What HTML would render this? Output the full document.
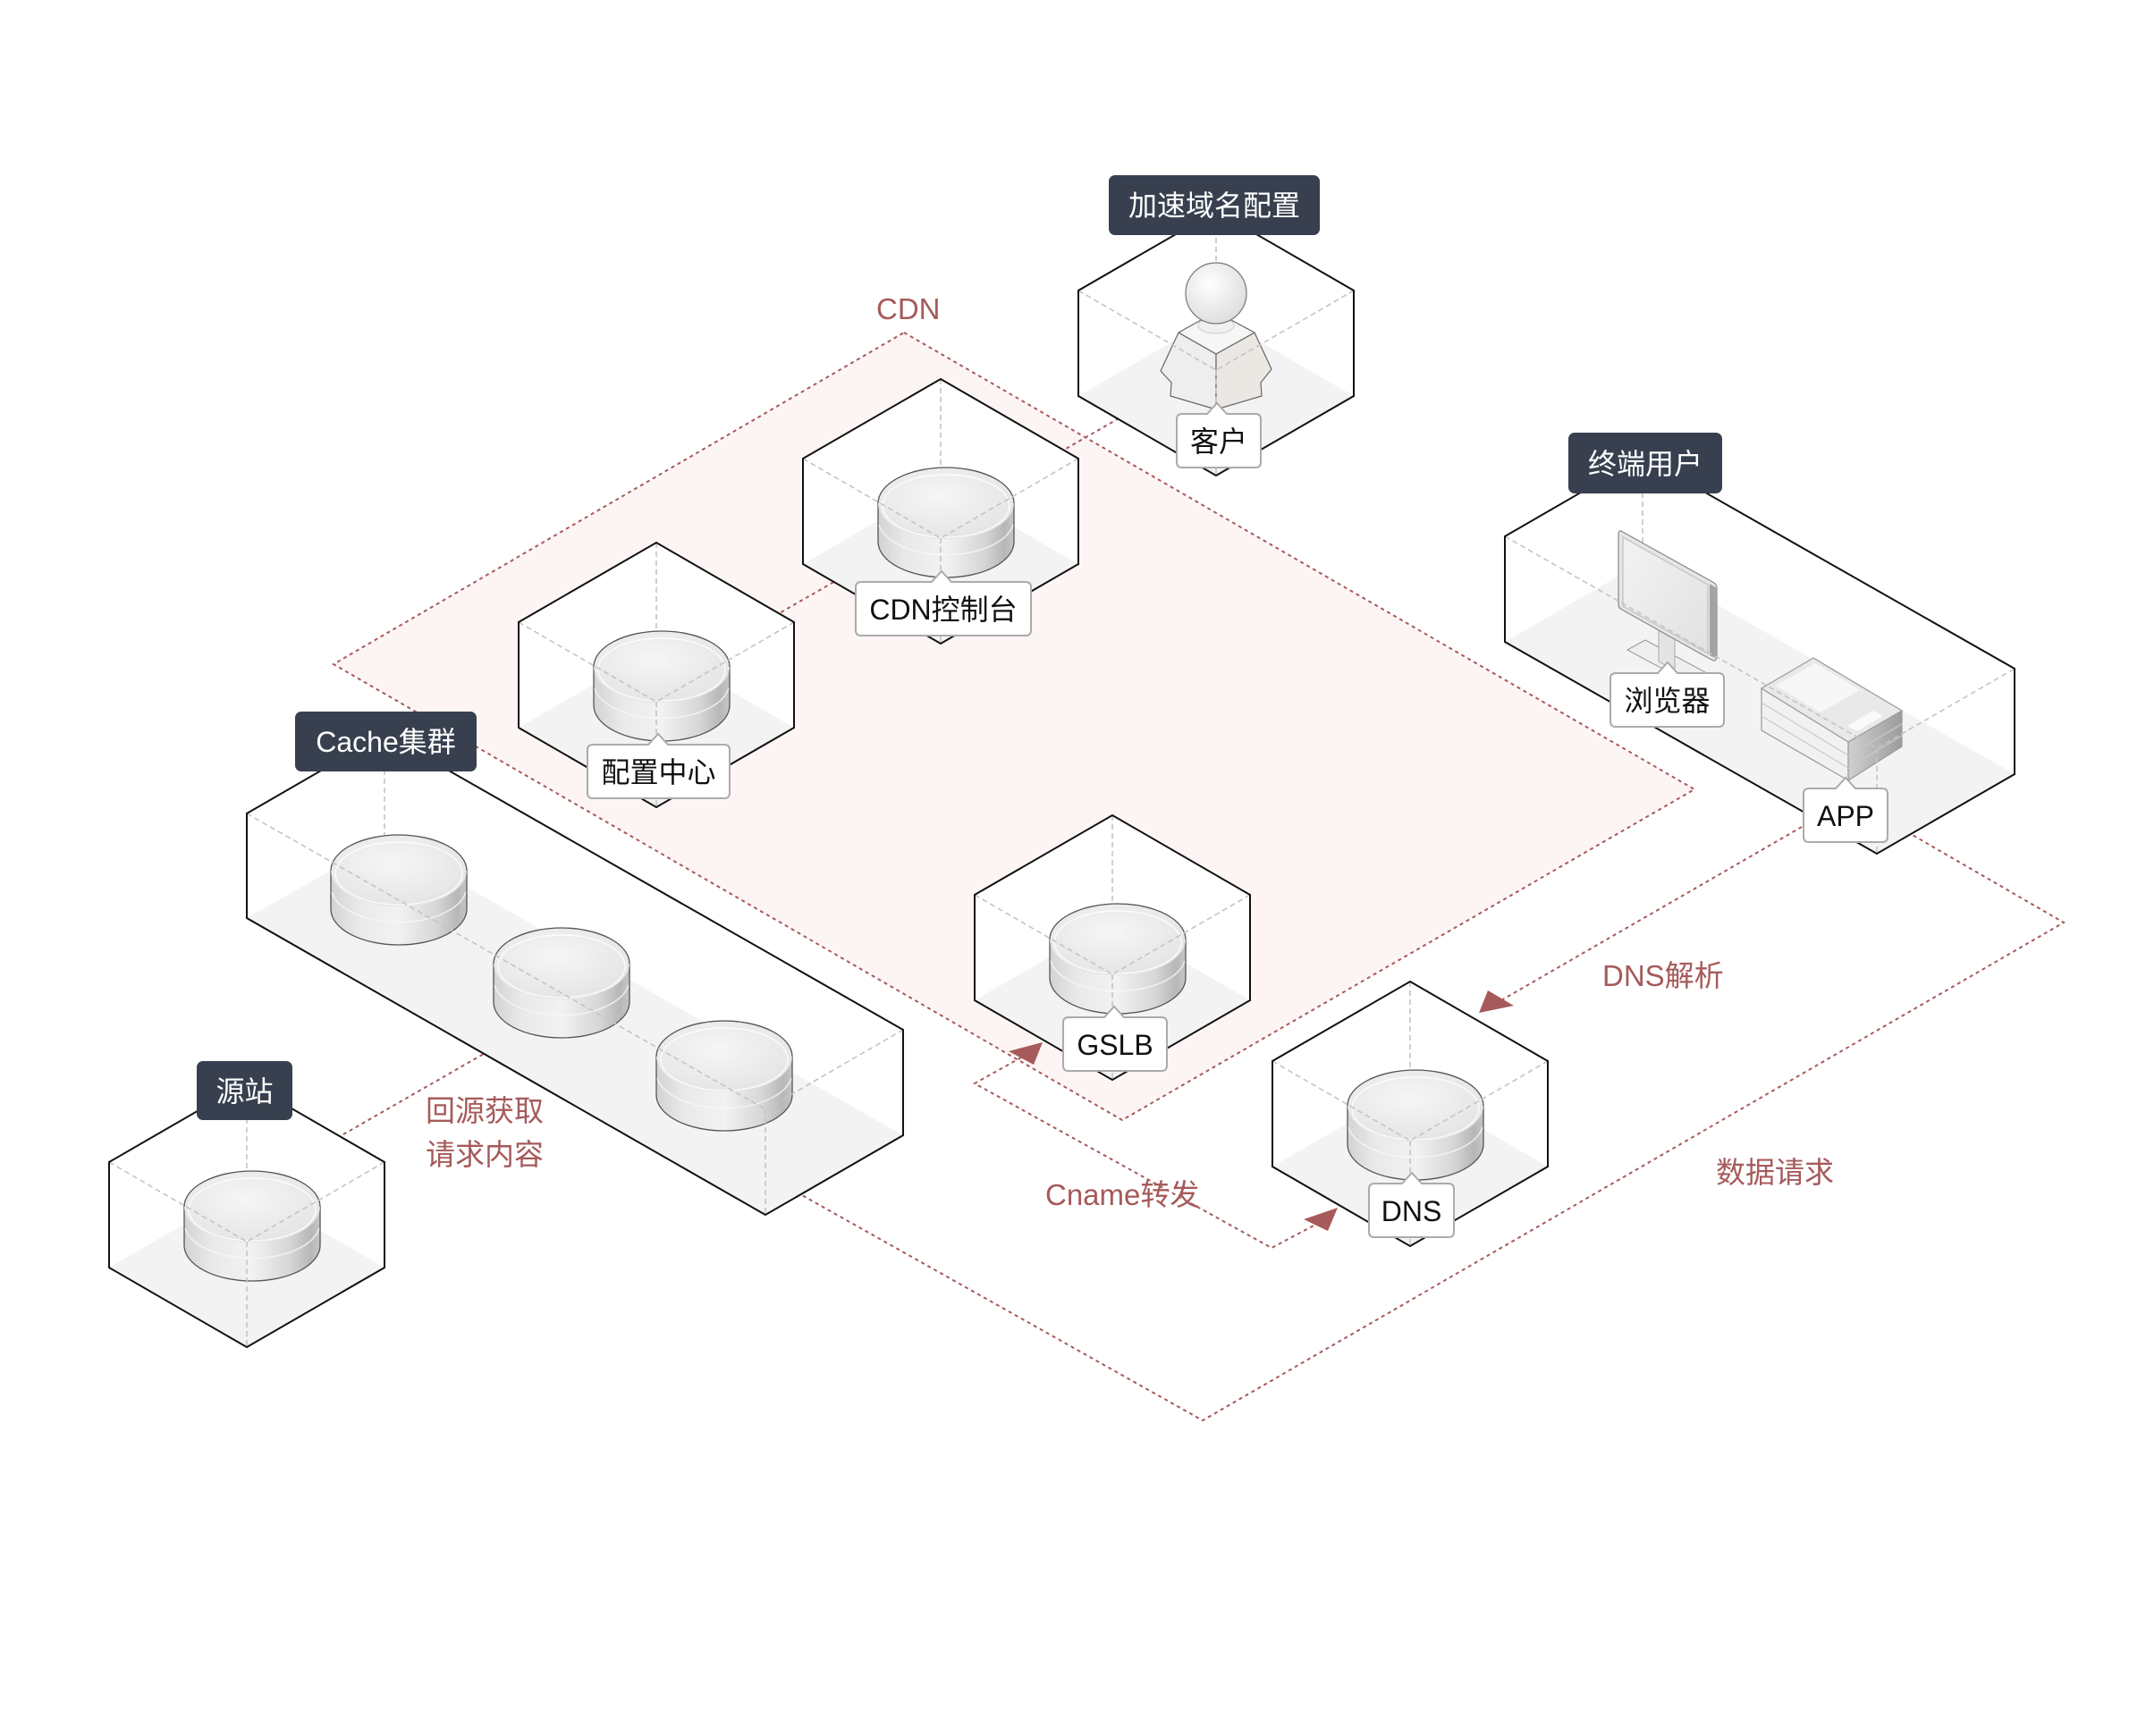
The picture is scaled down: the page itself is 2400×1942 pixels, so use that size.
<!DOCTYPE html>
<html><head><meta charset="utf-8"><title>CDN</title>
<style>
html,body{margin:0;padding:0;background:#fff;}
svg{display:block;}
.rd{stroke:#a65a5a;stroke-width:2;stroke-dasharray:4 4;fill:none;}
.gd{stroke:#c4c4c4;stroke-width:1.6;stroke-dasharray:6 4;fill:none;}
.ol{fill:none;stroke:#111;stroke-width:2;stroke-linejoin:miter;}
.wf{fill:#fff;}
.fl{fill:#f3f3f3;}
.dl{fill:#38404f;}
.dt{fill:#fff;font-family:"Liberation Sans","Noto Sans CJK SC",sans-serif;font-size:32px;text-anchor:middle;}
.wt{fill:#111;font-family:"Liberation Sans","Noto Sans CJK SC",sans-serif;font-size:32px;text-anchor:middle;}
.rt{fill:#a65a5a;font-family:"Liberation Sans","Noto Sans CJK SC",sans-serif;font-size:33px;}
.wl{fill:#fff;stroke:#ababab;stroke-width:2;}
</style></head>
<body>
<svg width="2400" height="1942" viewBox="0 0 2400 1942" xmlns="http://www.w3.org/2000/svg">
<defs>
<linearGradient id="cs" x1="0" y1="0" x2="1" y2="0">
<stop offset="0" stop-color="#d3d3d3"/>
<stop offset="0.2" stop-color="#e9e9e9"/>
<stop offset="0.5" stop-color="#f2f2f2"/>
<stop offset="0.78" stop-color="#d6d6d6"/>
<stop offset="0.93" stop-color="#b7b7b7"/>
<stop offset="1" stop-color="#c6c6c6"/>
</linearGradient>
<radialGradient id="ct" cx="0.45" cy="0.4" r="0.7">
<stop offset="0" stop-color="#f6f6f6"/>
<stop offset="1" stop-color="#e2e2e2"/>
</radialGradient>
<linearGradient id="ar" x1="0" y1="0" x2="1" y2="0">
<stop offset="0" stop-color="#d0d0d0"/>
<stop offset="1" stop-color="#9c9c9c"/>
</linearGradient>
<linearGradient id="scr" x1="0" y1="0" x2="1" y2="1">
<stop offset="0" stop-color="#f2f2f2"/>
<stop offset="1" stop-color="#e2e2e2"/>
</linearGradient>
<radialGradient id="hd" cx="0.4" cy="0.35" r="0.7">
<stop offset="0" stop-color="#ffffff"/>
<stop offset="1" stop-color="#dcdcdc"/>
</radialGradient>
<g id="cyl">
<path d="M-76,0 V43 A76,40 0 0 0 76,43 V0 Z" fill="url(#cs)" stroke="#555" stroke-width="1.3"/>
<path d="M-75,24 A76,40 0 0 0 75,24" fill="none" stroke="#f8f8f8" stroke-width="1.5" opacity="0.8"/>
<ellipse cx="0" cy="0" rx="76" ry="40" fill="url(#ct)"/>
<path d="M-76,0 A76,40 0 0 1 76,0" fill="none" stroke="#555" stroke-width="1.3"/>
<ellipse cx="0" cy="3" rx="71" ry="35" fill="none" stroke="#fff" stroke-width="1.5" opacity="0.8"/>
</g>
</defs>

<!-- CDN area -->
<path d="M1011,372 L1895,883 L1255,1253 L373,743 Z" fill="#fdf5f4"/>
<path d="M1011,372 L1895,883 L1255,1253 L373,743 Z" class="rd"/>
<text x="980" y="357" class="rt">CDN</text>

<!-- red dashed connectors -->
<path d="M1300,440 L734,765" class="rd"/>
<path d="M370,1277 L560,1168" class="rd"/>
<path d="M856,1314 L1345,1589 L2308,1032 L2099,911" class="rd"/>
<path d="M2015,925 L1679,1119" class="rd"/>
<path d="M1142,1183 L1090,1212 L1422,1396 L1471,1370" class="rd"/>
<polygon points="1654,1133 1693,1125 1664,1108" fill="#a65a5a"/>
<polygon points="1166,1166 1128,1176 1156,1191" fill="#a65a5a"/>
<polygon points="1496,1351 1458,1364 1485,1377" fill="#a65a5a"/>

<!-- Cache cluster box -->
<path d="M276,910 L430,821 L1010,1152 L1010,1270 L856,1359 L276,1027 Z" class="wf"/>
<path d="M430,940 L1010,1270 L856,1359 L276,1027 Z" class="fl"/>
<path d="M430,821 V940" class="gd"/>
<use href="#cyl" x="446" y="974"/>
<use href="#cyl" x="628" y="1078"/>
<use href="#cyl" x="810" y="1182"/>
<path d="M276,910 L856,1241 L1010,1152 M856,1241 V1359" class="gd"/>
<path d="M276,910 L430,821 L1010,1152 L1010,1270 L856,1359 L276,1027 Z" class="ol"/>

<!-- End user box -->
<path d="M1683,600 L1837,511 L2253,748 L2253,866 L2099,955 L1683,718 Z" class="wf"/>
<path d="M1837,629 L2253,866 L2099,955 L1683,718 Z" class="fl"/>
<path d="M1837,511 V629" class="gd"/>
<!-- monitor -->
<path d="M1820,727 L1840,716 L1907,752 L1887,763 Z" fill="#efefef" stroke="#999" stroke-width="1"/>
<path d="M1855,705 L1873,715 L1873,750 L1855,740 Z" fill="#e4e4e4" stroke="#aaa" stroke-width="1"/>
<path d="M1813,594 L1917,652 Q1920,654 1920,658 L1920,734 Q1920,741 1914,738 L1814,682 Q1810,680 1810,676 L1810,598 Q1810,593 1813,594 Z" fill="#e6e6e6" stroke="#888" stroke-width="1.2"/>
<path d="M1815,601 L1910,654 L1910,731 L1815,678 Z" fill="url(#scr)" stroke="#c4c8d0" stroke-width="1.5"/>
<path d="M1912,653 L1920,658 V737 L1912,733 Z" fill="#a3a3a3"/>
<!-- app device -->
<path d="M1970,770 L2067,830 L2067,873 L1970,817 Z" fill="#f1f1f1" stroke="#9a9a9a" stroke-width="1.2"/>
<path d="M2067,830 L2127,795 L2127,835 L2067,873 Z" fill="url(#ar)" stroke="#9a9a9a" stroke-width="1.2"/>
<path d="M1970,786 L2067,845 L2127,810 M1970,801 L2067,859 L2127,823" fill="none" stroke="#c9c9c9" stroke-width="1.2"/>
<path d="M1970,770 L2028,736 L2127,795 L2067,830 Z" fill="#e9e9e9" stroke="#9a9a9a" stroke-width="1.2" stroke-linejoin="round"/>
<path d="M1986,767 L2030,742 L2080,772 L2036,797 Z" fill="#f7f7f7"/>
<path d="M2066,812 L2095,795 L2106,801 L2077,818 Z" fill="#fafafa"/>
<path d="M1683,600 L2099,837 L2253,748 M2099,837 V955" class="gd"/>
<path d="M1683,600 L1837,511 L2253,748 L2253,866 L2099,955 L1683,718 Z" class="ol"/>

<!-- Customer hex -->
<g transform="translate(1360,236)">
<path d="M0,0 L154,89 L154,207 L0,296 L-154,207 L-154,89 Z" class="wf"/>
<path d="M0,118 L154,207 L0,296 L-154,207 Z" class="fl"/>
<path d="M0,0 V118" class="gd"/>
</g>
<!-- person -->
<path d="M1318,372 L1360,396 L1360,458 L1309,443 L1310,428 L1298,415 Z" fill="#eeeeee" stroke="#666" stroke-width="1.2" stroke-linejoin="round"/>
<path d="M1360,396 L1403,372 L1422,413 L1410,428 L1411,443 L1360,458 Z" fill="#ebe8e3" stroke="#666" stroke-width="1.2" stroke-linejoin="round"/>
<path d="M1318,372 L1345,357 L1375,357 L1403,372 L1360,396 Z" fill="#f6f6f6" stroke="#666" stroke-width="1.2" stroke-linejoin="round"/>
<ellipse cx="1360" cy="364" rx="20" ry="9" fill="#f0f0f0" stroke="#ccc" stroke-width="1"/>
<circle cx="1360" cy="328" r="34" fill="url(#hd)" stroke="#777" stroke-width="1.2"/>
<g transform="translate(1360,236)">
<path d="M-154,89 L0,178 L154,89 M0,178 V296" class="gd"/>
<path d="M0,0 L154,89 L154,207 L0,296 L-154,207 L-154,89 Z" class="ol"/>
</g>

<!-- CDN console hex -->
<g transform="translate(1052,424)">
<path d="M0,0 L154,89 L154,207 L0,296 L-154,207 L-154,89 Z" class="wf"/>
<path d="M0,118 L154,207 L0,296 L-154,207 Z" class="fl"/>
<path d="M0,0 V118" class="gd"/>
<use href="#cyl" x="6" y="139"/>
<path d="M-154,89 L0,178 L154,89 M0,178 V296" class="gd"/>
<path d="M0,0 L154,89 L154,207 L0,296 L-154,207 L-154,89 Z" class="ol"/>
</g>

<!-- Config center hex -->
<g transform="translate(734,607)">
<path d="M0,0 L154,89 L154,207 L0,296 L-154,207 L-154,89 Z" class="wf"/>
<path d="M0,118 L154,207 L0,296 L-154,207 Z" class="fl"/>
<path d="M0,0 V118" class="gd"/>
<use href="#cyl" x="6" y="139"/>
<path d="M-154,89 L0,178 L154,89 M0,178 V296" class="gd"/>
<path d="M0,0 L154,89 L154,207 L0,296 L-154,207 L-154,89 Z" class="ol"/>
</g>

<!-- GSLB hex -->
<g transform="translate(1244,912)">
<path d="M0,0 L154,89 L154,207 L0,296 L-154,207 L-154,89 Z" class="wf"/>
<path d="M0,118 L154,207 L0,296 L-154,207 Z" class="fl"/>
<path d="M0,0 V118" class="gd"/>
<use href="#cyl" x="6" y="139"/>
<path d="M-154,89 L0,178 L154,89 M0,178 V296" class="gd"/>
<path d="M0,0 L154,89 L154,207 L0,296 L-154,207 L-154,89 Z" class="ol"/>
</g>

<!-- DNS hex -->
<g transform="translate(1577,1098)">
<path d="M0,0 L154,89 L154,207 L0,296 L-154,207 L-154,89 Z" class="wf"/>
<path d="M0,118 L154,207 L0,296 L-154,207 Z" class="fl"/>
<path d="M0,0 V118" class="gd"/>
<use href="#cyl" x="6" y="139"/>
<path d="M-154,89 L0,178 L154,89 M0,178 V296" class="gd"/>
<path d="M0,0 L154,89 L154,207 L0,296 L-154,207 L-154,89 Z" class="ol"/>
</g>

<!-- Origin hex -->
<g transform="translate(276,1211)">
<path d="M0,0 L154,89 L154,207 L0,296 L-154,207 L-154,89 Z" class="wf"/>
<path d="M0,118 L154,207 L0,296 L-154,207 Z" class="fl"/>
<path d="M0,0 V118" class="gd"/>
<use href="#cyl" x="6" y="139"/>
<path d="M-154,89 L0,178 L154,89 M0,178 V296" class="gd"/>
<path d="M0,0 L154,89 L154,207 L0,296 L-154,207 L-154,89 Z" class="ol"/>
</g>

<!-- dark labels -->
<rect x="1240" y="196" width="236" height="67" rx="7" class="dl"/>
<text x="1358" y="241" class="dt">加速域名配置</text>
<rect x="330" y="796" width="203" height="67" rx="7" class="dl"/>
<text x="431.5" y="841" class="dt">Cache集群</text>
<rect x="220" y="1187" width="107" height="66" rx="7" class="dl"/>
<text x="273.5" y="1232" class="dt">源站</text>
<rect x="1754" y="484" width="172" height="68" rx="7" class="dl"/>
<text x="1840" y="530" class="dt">终端用户</text>

<!-- white labels with pointer -->
<path d="M1322,463 H1350 L1361,451 L1372,463 H1404 Q1410,463 1410,469 V517 Q1410,523 1404,523 H1322 Q1316,523 1316,517 V469 Q1316,463 1322,463 Z" class="wl"/>
<text x="1363" y="505" class="wt">客户</text>

<path d="M963,651 H1042 L1053,639 L1064,651 H1147 Q1153,651 1153,657 V705 Q1153,711 1147,711 H963 Q957,711 957,705 V657 Q957,651 963,651 Z" class="wl"/>
<text x="1055" y="693" class="wt">CDN控制台</text>

<path d="M663,833 H725 L736,821 L747,833 H810 Q816,833 816,839 V887 Q816,893 810,893 H663 Q657,893 657,887 V839 Q657,833 663,833 Z" class="wl"/>
<text x="736.5" y="875" class="wt">配置中心</text>

<path d="M1195,1138 H1235 L1246,1126 L1257,1138 H1299 Q1305,1138 1305,1144 V1192 Q1305,1198 1299,1198 H1195 Q1189,1198 1189,1192 V1144 Q1189,1138 1195,1138 Z" class="wl"/>
<text x="1247" y="1180" class="wt">GSLB</text>

<path d="M1537,1324 H1568 L1579,1312 L1590,1324 H1620 Q1626,1324 1626,1330 V1378 Q1626,1384 1620,1384 H1537 Q1531,1384 1531,1378 V1330 Q1531,1324 1537,1324 Z" class="wl"/>
<text x="1578.5" y="1366" class="wt">DNS</text>

<path d="M1807,753 H1854 L1865,741 L1876,753 H1922 Q1928,753 1928,759 V807 Q1928,813 1922,813 H1807 Q1801,813 1801,807 V759 Q1801,753 1807,753 Z" class="wl"/>
<text x="1864.5" y="795" class="wt">浏览器</text>

<path d="M2023,882 H2053 L2064,870 L2075,882 H2105 Q2111,882 2111,888 V936 Q2111,942 2105,942 H2023 Q2017,942 2017,936 V888 Q2017,882 2023,882 Z" class="wl"/>
<text x="2064" y="924" class="wt">APP</text>

<!-- red annotation texts -->
<text x="476" y="1254" class="rt">回源获取</text>
<text x="476" y="1303" class="rt">请求内容</text>
<text x="1169" y="1348" class="rt">Cname转发</text>
<text x="1792" y="1103" class="rt">DNS解析</text>
<text x="1919" y="1323" class="rt">数据请求</text>
</svg>
</body></html>
